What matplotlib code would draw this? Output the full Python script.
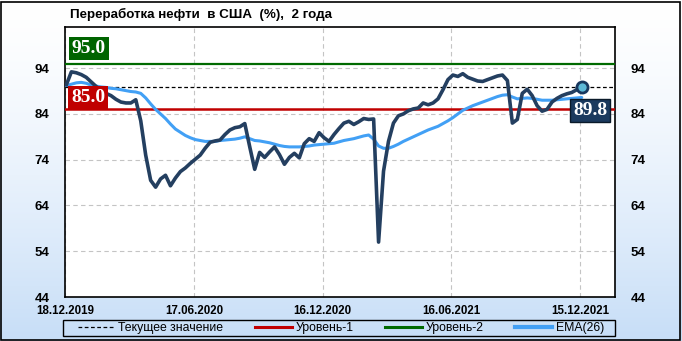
import matplotlib
matplotlib.use("Agg")
import matplotlib.pyplot as plt
import matplotlib.dates as mdates
import numpy as np
import pandas as pd
from matplotlib.lines import Line2D
from matplotlib.patches import Rectangle

plt.rcParams["font.family"] = ["Liberation Sans", "DejaVu Sans"]

# weekly refinery utilization, %
start_date = "2019-12-20"
utilization = [
    90.4, 93.2, 93.0, 92.6, 92.0, 91.0, 90.0, 89.2, 88.5, 88.0,
    87.2, 86.6, 86.4, 86.4, 87.1, 82.5, 75.0, 69.5, 68.0, 69.8,
    70.6, 68.3, 70.0, 71.4, 72.2, 73.2, 74.1, 75.0, 76.5, 77.8,
    78.1, 78.3, 79.5, 80.5, 81.0, 81.2, 81.9, 76.8, 71.9, 75.6,
    74.5, 75.7, 76.8, 75.1, 73.0, 74.5, 75.4, 74.4, 77.5, 78.6,
    78.0, 79.9, 78.8, 78.0, 79.5, 80.8, 82.0, 82.4, 81.7, 82.3,
    83.0, 82.8, 82.9, 56.0, 71.5, 78.0, 82.0, 83.6, 84.0, 84.7,
    85.1, 85.3, 86.4, 86.0, 86.4, 87.3, 89.3, 91.5, 92.5, 92.2,
    92.8, 92.0, 91.6, 91.2, 91.1, 91.5, 91.9, 92.3, 92.5, 91.3,
    82.0, 82.8, 88.5, 89.4, 88.0, 85.8, 84.6, 85.0, 86.6, 87.4,
    88.0, 88.4, 88.7, 89.3, 89.8,
]
ema26 = [
    90.2, 90.5, 90.8, 90.9, 90.7, 90.3, 90.1, 89.9, 89.8, 89.6,
    89.5, 89.3, 89.1, 88.9, 88.8, 88.5, 87.5, 86.2, 85.0, 84.0,
    83.0, 81.8, 80.7, 80.0, 79.3, 78.8, 78.4, 78.2, 78.0, 78.0,
    78.0, 78.2, 78.3, 78.4, 78.5, 78.7, 79.0, 78.6, 78.2, 78.1,
    77.9, 77.7, 77.4, 77.1, 76.9, 76.8, 76.8, 76.8, 76.9, 77.0,
    77.2, 77.3, 77.4, 77.5, 77.6, 77.9, 78.2, 78.4, 78.6, 78.9,
    79.2, 79.4, 78.5, 77.0, 76.5, 76.5, 76.9, 77.4, 78.0, 78.5,
    79.0, 79.5, 80.0, 80.5, 80.9, 81.3, 81.9, 82.5, 83.2, 84.0,
    84.8, 85.3, 85.8, 86.2, 86.6, 87.0, 87.4, 87.8, 88.1, 88.2,
    87.7, 87.3, 87.4, 87.5, 87.4, 87.2, 87.0, 87.0, 87.0, 87.1,
    87.2, 87.3, 87.4, 87.5, 87.6,
]
level_1 = 85.0
level_2 = 95.0
tick_dates = ["2019-12-18", "2020-06-17", "2020-12-16", "2021-06-16", "2021-12-15"]
y_ticks = [44, 54, 64, 74, 84, 94]
title = "Переработка нефти  в США  (%),  2 года"

dates = pd.date_range(start_date, periods=len(utilization), freq="7D")
current = utilization[-1]

dark = "#243f60"
ema_color = "#42a0f5"
red = "#c00000"
green = "#006a00"

fig = plt.figure(figsize=(6.82, 3.41), dpi=100)

# background gradient, white at top to pale blue at bottom
bg = fig.add_axes([0, 0, 1, 1], zorder=-10)
grad = np.linspace(0, 1, 256).reshape(-1, 1)
top_c = np.array([1.0, 1.0, 1.0])
bot_c = np.array([0.78, 0.87, 0.97])
img = top_c * (1 - grad[..., None] ** 1.4) + bot_c * grad[..., None] ** 1.4
bg.imshow(img, aspect="auto", extent=[0, 1, 0, 1])
bg.set_axis_off()
fig.patches.append(Rectangle((1 / 682, 1 / 341), 679 / 682, 338 / 341,
                             transform=fig.transFigure, fill=False,
                             edgecolor="black", lw=1.2))

ax = fig.add_axes([65 / 682, 1 - 297 / 341, 550 / 682, 270 / 341])
ax.set_facecolor("white")
ax.set_xlim(pd.Timestamp("2019-12-18"), pd.Timestamp("2022-02-02"))
ax.set_ylim(44, 103)

ax.set_yticks(y_ticks)
ax.set_xticks(pd.to_datetime(tick_dates))
ax.xaxis.set_major_formatter(mdates.DateFormatter("%d.%m.%Y"))
ax.tick_params(axis="y", length=0, pad=11, labelsize=9.5,
               left=True, right=True, labelleft=True, labelright=True)
ax.tick_params(axis="x", length=0, pad=6, labelsize=8.3)
for lab in ax.get_xticklabels() + ax.get_yticklabels():
    lab.set_fontweight("bold")
for t in ax.yaxis.get_major_ticks():
    t.label2.set_fontweight("bold")

ax.grid(True, color="#c4c4c4", linestyle=(0, (4, 3)), lw=0.8)
for s in ax.spines.values():
    s.set_color("black")
    s.set_linewidth(1.2)

ax.axhline(level_2, color=green, lw=1.6, zorder=3)
ax.axhline(level_1, color=red, lw=1.8, zorder=3)
ax.axhline(current, color="black", lw=0.9, linestyle=(0, (3, 2)), zorder=3)

ax.plot(dates, ema26, color=ema_color, lw=2.2, zorder=4, solid_capstyle="round")
ax.plot(dates, utilization, color=dark, lw=2.6, zorder=5, solid_joinstyle="round")
ax.plot(dates[-1], current, marker="o", ms=8, mfc="#5cb8d6", mec="#17375e",
        mew=2, zorder=6)

serif = ["Liberation Serif", "DejaVu Serif"]
ax.annotate(f"{level_2:.1f}", xy=(0, level_2), xycoords=("axes fraction", "data"),
            xytext=(7, 7), textcoords="offset pixels", ha="left", va="bottom",
            color="white", fontsize=14, fontweight="bold", family=serif,
            bbox=dict(boxstyle="square,pad=0.15", fc="#006400", ec="none"), zorder=7)
ax.annotate(f"{level_1:.1f}", xy=(0, level_1), xycoords=("axes fraction", "data"),
            xytext=(6, 3), textcoords="offset pixels", ha="left", va="bottom",
            color="white", fontsize=14, fontweight="bold", family=serif,
            bbox=dict(boxstyle="square,pad=0.15", fc=red, ec="none"), zorder=7)
ax.annotate(f"{current:.1f}", xy=(1, current), xycoords=("axes fraction", "data"),
            xytext=(-8, -15), textcoords="offset pixels", ha="right", va="top",
            color="white", fontsize=14, fontweight="bold", family=serif,
            bbox=dict(boxstyle="square,pad=0.15", fc="#1b3a5e", ec="#0a1a2a", lw=1),
            zorder=7)

fig.text(70 / 682, 1 - 14 / 341, title, ha="left", va="center",
         fontsize=9.6, fontweight="bold")

# legend
fig.patches.append(Rectangle((63 / 682, 1 - 336 / 341), 552 / 682, 16 / 341,
                             transform=fig.transFigure, fill=False,
                             edgecolor="black", lw=1))
handles = [
    Line2D([], [], color="black", lw=0.9, linestyle=(0, (3, 2))),
    Line2D([], [], color=red, lw=2.2),
    Line2D([], [], color=green, lw=2.2),
    Line2D([], [], color=ema_color, lw=3),
]
labels = ["Текущее значение", "Уровень-1", "Уровень-2", "EMA(26)"]
fig.legend(handles, labels, loc="center", ncol=4, frameon=False,
           bbox_to_anchor=(341 / 682, 1 - 328 / 341), fontsize=8.8,
           handlelength=3.0, handletextpad=0.3, columnspacing=2.6,
           borderaxespad=0, borderpad=0)

fig.savefig("out.png", dpi=100)
